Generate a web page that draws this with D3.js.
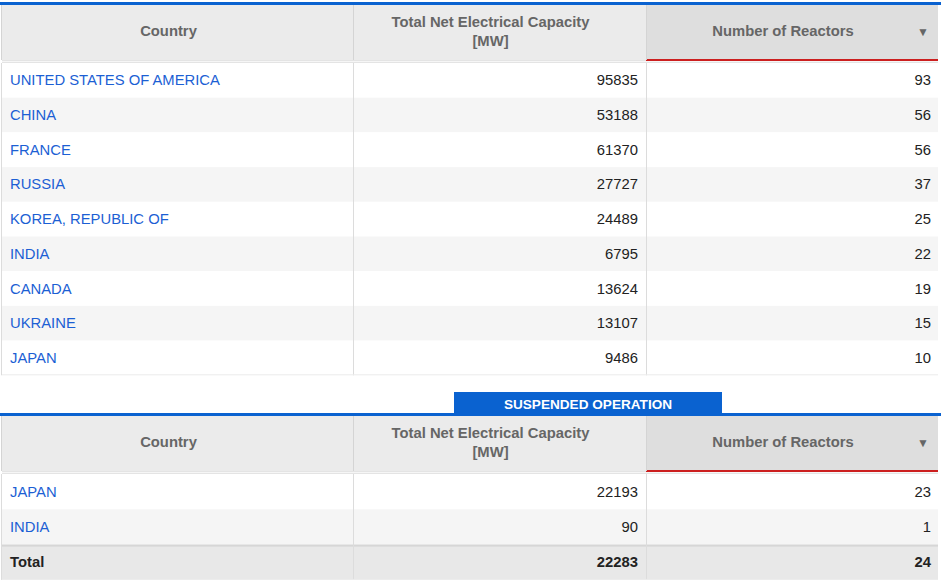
<!DOCTYPE html>
<html>
<head>
<meta charset="utf-8">
<script src="https://d3js.org/d3.v7.min.js"></script>
<style>
  html, body { margin: 0; padding: 0; background: #fff; }
  svg { display: block; font-family: "Liberation Sans", Arial, sans-serif; }
</style>
</head>
<body>
<svg id="tbl" width="941" height="582"></svg>
<script>
// ---- data ----
var headers = ['Country', 'Total Net Electrical Capacity\n[MW]', 'Number of Reactors'];
var opCountries = ['UNITED STATES OF AMERICA', 'CHINA', 'FRANCE', 'RUSSIA', 'KOREA, REPUBLIC OF', 'INDIA', 'CANADA', 'UKRAINE', 'JAPAN'];
var opCapacity = [95835, 53188, 61370, 27727, 24489, 6795, 13624, 13107, 9486];
var opReactors = [93, 56, 56, 37, 25, 22, 19, 15, 10];
var susTitle = 'SUSPENDED OPERATION';
var susCountries = ['JAPAN', 'INDIA'];
var susCapacity = [22193, 90];
var susReactors = [23, 1];
var totalLabel = 'Total';
var susTotal = [22283, 24];

var svg = d3.select('#tbl');
var BLUE = '#0a62d0', GRID = '#dcdcdc', LINK = '#1c5fd4';
var colEdges = [2, 353, 646, 938];
var FS = 14.8;

function header(y0, h) {
  var g = svg.append('g');
  g.append('rect').attr('x', 0).attr('y', y0 - 3).attr('width', 941).attr('height', 3).attr('fill', BLUE);
  g.append('rect').attr('x', colEdges[0]).attr('y', y0).attr('width', colEdges[2] - colEdges[0]).attr('height', h).attr('fill', '#ebebeb');
  g.append('rect').attr('x', colEdges[2]).attr('y', y0).attr('width', colEdges[3] - colEdges[2]).attr('height', h).attr('fill', '#dedede');
  // bottom double line + red sort marker
  g.append('rect').attr('x', colEdges[0]).attr('y', y0 + h).attr('width', colEdges[3] - colEdges[0]).attr('height', 3).attr('fill', '#e4e4e4');
  g.append('rect').attr('x', colEdges[0]).attr('y', y0 + h + 1).attr('width', colEdges[3] - colEdges[0]).attr('height', 1).attr('fill', '#f6f6f6');
  g.append('rect').attr('x', colEdges[2]).attr('y', y0 + h - 1).attr('width', colEdges[3] - colEdges[2]).attr('height', 2).attr('fill', '#cc1f1f');
  [1, 2].forEach(function (i) {
    g.append('line').attr('x1', colEdges[i] + 0.5).attr('x2', colEdges[i] + 0.5).attr('y1', y0).attr('y2', y0 + h).attr('stroke', '#d4d4d4');
  });
  g.append('line').attr('x1', colEdges[0] - 0.5).attr('x2', colEdges[0] - 0.5).attr('y1', y0).attr('y2', y0 + h).attr('stroke', '#d4d4d4');
  var cy = y0 + h / 2 - 1.5;
  headers.forEach(function (t, i) {
    var lines = t.split('\n');
    var cx = (colEdges[i] + colEdges[i + 1]) / 2 - 9;
    var txt = g.append('text').attr('text-anchor', 'middle').attr('font-size', FS).attr('font-weight', 'bold').attr('fill', '#666');
    lines.forEach(function (l, k) {
      txt.append('tspan').attr('x', cx).attr('y', cy + 5 + (k - (lines.length - 1) / 2) * 19).text(l);
    });
  });
  g.append('text').attr('x', 923).attr('y', cy + 5).attr('text-anchor', 'middle').attr('font-size', 12).attr('fill', '#666').text('\u25BC');
}

function body(y0, rowH, countries, cap, reac, total) {
  var n = countries.length + (total ? 1 : 0);
  var y = d3.scaleBand().domain(d3.range(n)).range([y0, y0 + n * rowH]);
  var rows = countries.map(function (c, i) { return { c: c, cap: cap[i], r: reac[i], i: i, total: false }; });
  if (total) rows.push({ c: totalLabel, cap: total[0], r: total[1], i: countries.length, total: true });
  var g = svg.append('g');
  var rg = g.selectAll('g.row').data(rows).enter().append('g').attr('class', 'row');
  rg.append('rect').attr('x', colEdges[0]).attr('y', function (d) { return y(d.i); })
    .attr('width', colEdges[3] - colEdges[0]).attr('height', y.bandwidth())
    .attr('fill', function (d) { return d.total ? '#e8e8e8' : (d.i % 2 ? '#f5f5f5' : '#fff'); });
  rg.filter(function (d) { return d.total; }).append('rect').attr('x', colEdges[0]).attr('y', function (d) { return y(d.i); })
    .attr('width', colEdges[3] - colEdges[0]).attr('height', 2).attr('fill', '#d6d6d6');
  rg.append('text').attr('x', 10).attr('y', function (d) { return y(d.i) + y.bandwidth() / 2 + 5; })
    .attr('font-size', FS).attr('font-weight', function (d) { return d.total ? 'bold' : null; })
    .attr('fill', function (d) { return d.total ? '#222' : LINK; }).text(function (d) { return d.c; });
  rg.append('text').attr('x', 638).attr('y', function (d) { return y(d.i) + y.bandwidth() / 2 + 5; })
    .attr('text-anchor', 'end').attr('font-size', FS).attr('font-weight', function (d) { return d.total ? 'bold' : null; })
    .attr('fill', '#222').text(function (d) { return d.cap; });
  rg.append('text').attr('x', 931).attr('y', function (d) { return y(d.i) + y.bandwidth() / 2 + 5; })
    .attr('text-anchor', 'end').attr('font-size', FS).attr('font-weight', function (d) { return d.total ? 'bold' : null; })
    .attr('fill', '#222').text(function (d) { return d.r; });
  var yEnd = y0 + n * rowH;
  [0, 1, 2].forEach(function (i) {
    g.append('line').attr('x1', colEdges[i] + (i ? 0.5 : -0.5)).attr('x2', colEdges[i] + (i ? 0.5 : -0.5)).attr('y1', y0).attr('y2', yEnd).attr('stroke', GRID);
  });
  g.append('line').attr('x1', colEdges[0]).attr('x2', colEdges[3]).attr('y1', yEnd - 0.5).attr('y2', yEnd - 0.5).attr('stroke', '#ececec');
}

// first table: in operation
header(5, 55);
body(63, 34.7, opCountries, opCapacity, opReactors, null);

// second table: suspended
svg.append('rect').attr('x', 454).attr('y', 392).attr('width', 268).attr('height', 22).attr('fill', BLUE);
svg.append('text').attr('x', 588).attr('y', 409).attr('text-anchor', 'middle').attr('font-size', 13.6)
  .attr('font-weight', 'bold').attr('fill', '#fff').text(susTitle);
header(416, 55);
body(474, 35.3, susCountries, susCapacity, susReactors, susTotal);
</script>
</body>
</html>
